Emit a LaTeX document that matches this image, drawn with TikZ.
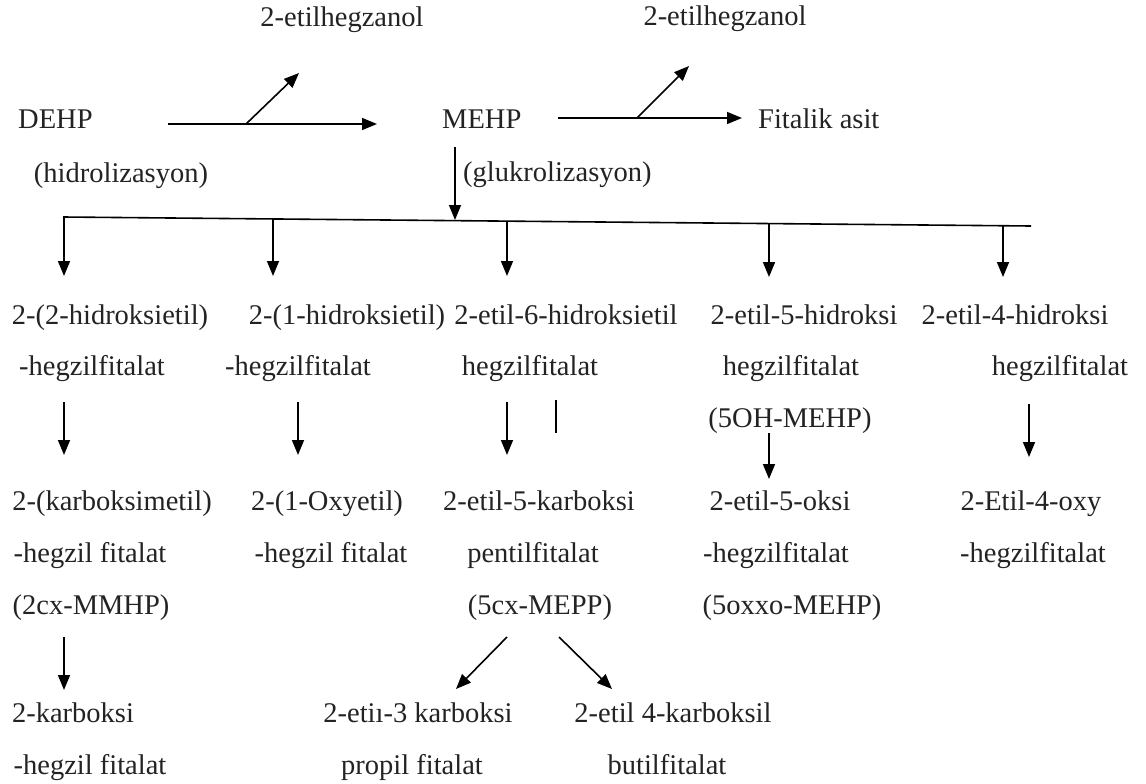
\documentclass[tikz,border=0pt]{standalone}
\usepackage{fontspec}
\setmainfont{Liberation Serif}
\usetikzlibrary{arrows.meta}
\definecolor{txt}{RGB}{35,35,35}
\begin{document}
\begin{tikzpicture}[x=1pt,y=-1pt,
  lbl/.style={anchor=base,inner sep=0pt,font=\fontsize{28.5}{30}\selectfont,text=txt},
  arr/.style={line width=1.6pt,draw=black,-{Triangle[length=15pt,width=12pt]}},
  ln/.style={line width=1.6pt,draw=black}]
\useasboundingbox (0,0) rectangle (1146,784);
% ---- top row
\node[lbl] (et1) at (342,27) {2-etilhegzanol};
\node[lbl] (et2) at (725,26) {2-etilhegzanol};
\node[lbl,anchor=base west] (dehp) at (18,128) {DEHP};
\node[lbl] (hid) at (121,182) {(hidrolizasyon)};
\node[lbl,anchor=base west] (mehp) at (442,128) {MEHP};
\node[lbl,anchor=base west] (fit) at (758,128) {Fitalik asit};
\node[lbl,anchor=base west] (glu) at (463,181) {(glukrolizasyon)};
% ---- row 1
\node[lbl] (a1) at (110,324) {2-(2-hidroksietil)};
\node[lbl] (b1) at (347,324) {2-(1-hidroksietil)};
\node[lbl] (c1) at (566,324) {2-etil-6-hidroksietil};
\node[lbl] (d1) at (804,324) {2-etil-5-hidroksi};
\node[lbl] (e1) at (1015,324) {2-etil-4-hidroksi};
% ---- row 2
\node[lbl] (a2) at (92,375) {-hegzilfitalat};
\node[lbl] (b2) at (298,375) {-hegzilfitalat};
\node[lbl] (c2) at (530,375) {hegzilfitalat};
\node[lbl] (d2) at (791,375) {hegzilfitalat};
\node[lbl] (e2) at (1060,375) {hegzilfitalat};
% ---- row 3
\node[lbl] (d3) at (790,427) {(5OH-MEHP)};
% ---- row 4
\node[lbl] (a4) at (112,510) {2-(karboksimetil)};
\node[lbl] (b4) at (327,510) {2-(1-Oxyetil)};
\node[lbl] (c4) at (539,510) {2-etil-5-karboksi};
\node[lbl] (d4) at (780,510) {2-etil-5-oksi};
\node[lbl] (e4) at (1031,510) {2-Etil-4-oxy};
% ---- row 5
\node[lbl] (a5) at (90,562) {-hegzil fitalat};
\node[lbl] (b5) at (331,562) {-hegzil fitalat};
\node[lbl] (c5) at (533,562) {pentilfitalat};
\node[lbl] (d5) at (776,562) {-hegzilfitalat};
\node[lbl] (e5) at (1033,562) {-hegzilfitalat};
% ---- row 6
\node[lbl] (a6) at (91,614) {(2cx-MMHP)};
\node[lbl] (c6) at (540,614) {(5cx-MEPP)};
\node[lbl] (d6) at (792,614) {(5oxxo-MEHP)};
% ---- row 7
\node[lbl] (a7) at (73,722) {2-karboksi};
\node[lbl] (c7) at (418,722) {2-etiı-3 karboksi};
\node[lbl] (g7) at (673,722) {2-etil 4-karboksil};
% ---- row 8
\node[lbl] (a8) at (90,774) {-hegzil fitalat};
\node[lbl] (c8) at (412,774) {propil fitalat};
\node[lbl] (g8) at (667,774) {butilfitalat};

% ---- connector points
\coordinate (dS) at (168,124); \coordinate (dT) at (377,124);
\coordinate (dB) at (246,124); \coordinate (dU) at (299,73);
\coordinate (mS) at (558,118); \coordinate (mT) at (742,118);
\coordinate (mB) at (637,118); \coordinate (mU) at (689,66);
\coordinate (vS) at (455,147); \coordinate (vT) at (455,220);
\coordinate (hL) at (63,217);  \coordinate (hR) at (1031,226);
\coordinate (bA) at (64,217);   \coordinate (tA) at (64,276);
\coordinate (bB) at (273,219);  \coordinate (tB) at (273,276);
\coordinate (bC) at (507,221.1);\coordinate (tC) at (507,276);
\coordinate (bD) at (769,223.6);\coordinate (tD) at (769,277);
\coordinate (bE) at (1003,225.7);\coordinate (tE) at (1003,277);
\coordinate (sA) at (64,402);  \coordinate (eA) at (64,455);
\coordinate (sB) at (298,402); \coordinate (eB) at (298,455);
\coordinate (sC) at (507,402); \coordinate (eC) at (507,455);
\coordinate (sD) at (769,433); \coordinate (eD) at (769,479);
\coordinate (sE) at (1029,404);\coordinate (eE) at (1029,457);
\coordinate (kS) at (556,400); \coordinate (kT) at (556,433);
\coordinate (xS) at (64,637);  \coordinate (xT) at (64,690);
\coordinate (pS) at (507,637); \coordinate (pT) at (456,689);
\coordinate (qS) at (559,637); \coordinate (qT) at (612,689);

% ---- connectors
\draw[arr] (dS) -- (dT);
\draw[arr] (dB) -- (dU);
\draw[arr] (mS) -- (mT);
\draw[arr] (mB) -- (mU);
\draw[arr] (vS) -- (vT);
\draw[ln] (hL) -- (hR);
\foreach \s/\t in {bA/tA,bB/tB,bC/tC,bD/tD,bE/tE,sA/eA,sB/eB,sC/eC,sD/eD,sE/eE,xS/xT,pS/pT,qS/qT}
  \draw[arr] (\s) -- (\t);
\draw[ln] (kS) -- (kT);
\end{tikzpicture}
\end{document}
